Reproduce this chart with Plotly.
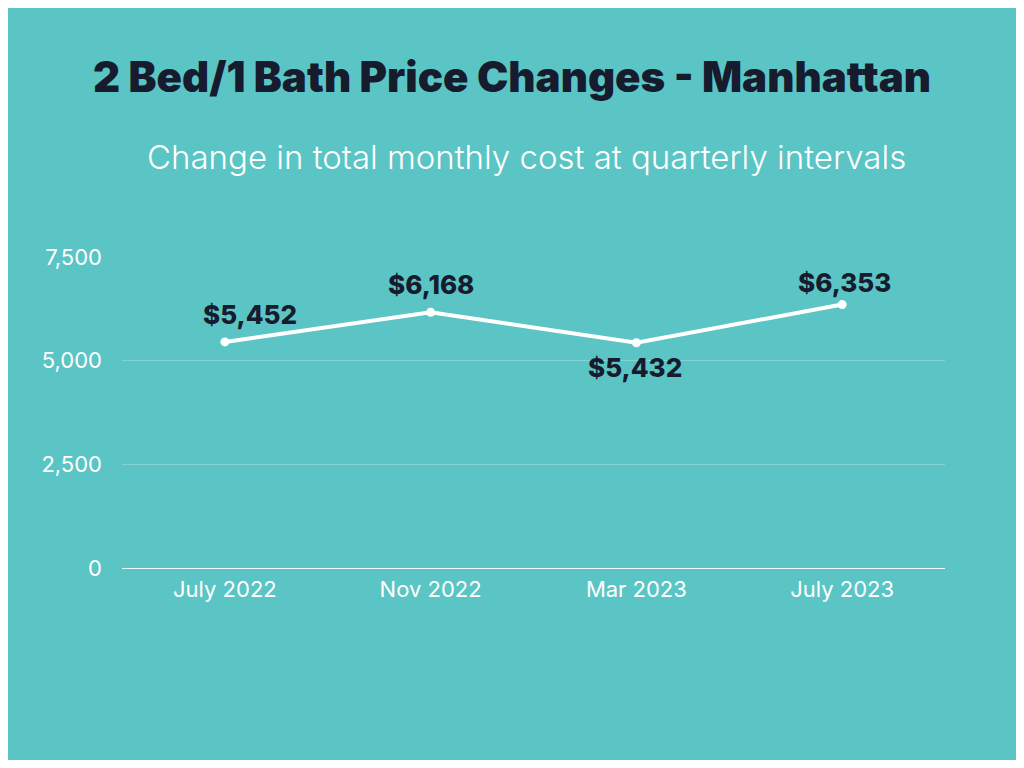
import plotly.graph_objects as go

months = ['July 2022', 'Nov 2022', 'Mar 2023', 'July 2023']
monthly_cost = [5452, 6168, 5432, 6353]
y_ticks = [0, 2500, 5000, 7500]

# where each value label sits relative to its point (px)
label_dx = [25, 0, -1, 2]
label_dy = [27, 28, -25, 22]

bg = '#5bc5c5'
navy = '#161b2e'

# page adds 8px body margin, so the figure is 16px smaller than the window
W, H = 1008, 752
L, R, T, B = 114, 71, 249, 192

fig = go.Figure()
fig.add_trace(go.Scatter(
    x=months, y=monthly_cost,
    mode='lines+markers',
    line=dict(color='white', width=4),
    marker=dict(color='white', size=9),
    cliponaxis=False,
    hoverinfo='skip',
))

plot_w = W - L - R
plot_h = H - T - B

notes = [dict(text='Change in total monthly cost at quarterly intervals',
              xref='paper', yref='paper',
              x=(W / 2 + 14 - L) / plot_w, y=1 + (T - 149) / plot_h,
              xanchor='center', yanchor='middle', showarrow=False,
              font=dict(family='Inter', size=33, color='white', weight=300))]
for m, v, dx, dy in zip(months, monthly_cost, label_dx, label_dy):
    notes.append(dict(text='$' + format(v, ','), x=m, y=v, xref='x', yref='y',
                      xanchor='center', yanchor='middle', xshift=dx, yshift=dy,
                      showarrow=False,
                      font=dict(family='Inter', size=26, color=navy, weight=800)))

fig.update_layout(
    width=W, height=H,
    paper_bgcolor=bg, plot_bgcolor=bg,
    margin=dict(l=L, r=R, t=T, b=B),
    showlegend=False,
    title=dict(text='2 Bed/1 Bath Price Changes - Manhattan',
               x=0.5, xanchor='center', y=1 - 69 / H, yanchor='middle',
               font=dict(family='Inter', size=42, color=navy, weight=900)),
    annotations=notes,
    xaxis=dict(range=[-0.5, 3.5], showgrid=False, zeroline=False, showline=False,
               tickfont=dict(family='Inter', size=22, color='white'), ticks='', ticklabelstandoff=6),
    yaxis=dict(range=[0, 7500], tickvals=y_ticks, tickformat=',', showgrid=True,
               gridcolor='rgba(255,255,255,0.25)', gridwidth=1,
               zeroline=True, zerolinecolor='rgba(255,255,255,0.9)', zerolinewidth=1.2,
               tickfont=dict(family='Inter', size=22, color='white'), ticklabelstandoff=19),
)

fig.write_html('out.html')
